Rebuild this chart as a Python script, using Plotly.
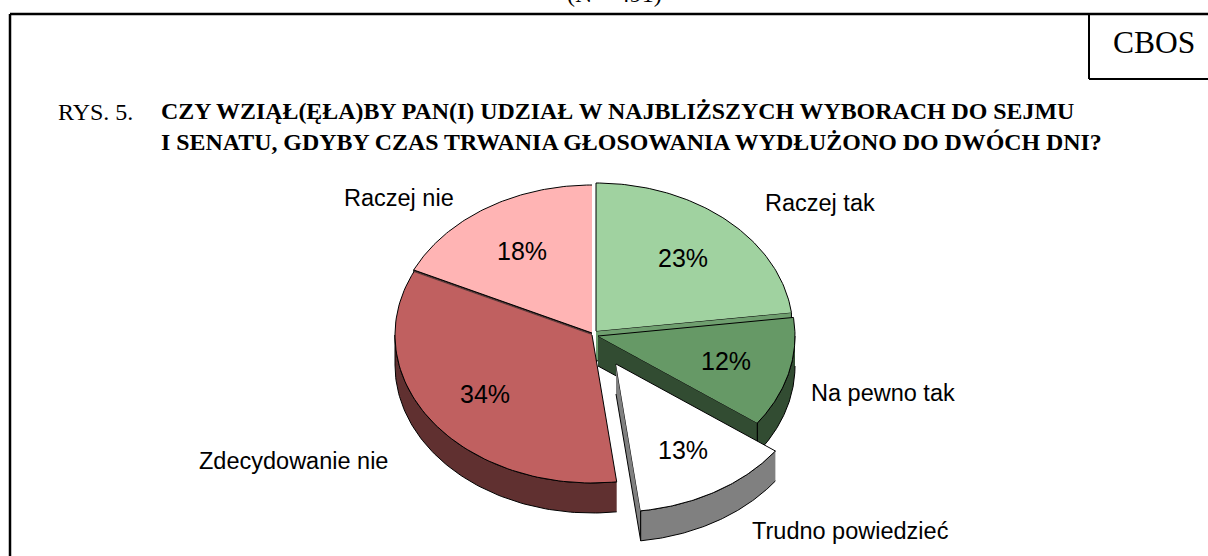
import numpy as np
import plotly.graph_objects as go

categories = ["Raczej tak", "Na pewno tak", "Trudno powiedzieć", "Zdecydowanie nie", "Raczej nie"]
values = [23, 12, 13, 34, 18]
top_colors = ["#A0D2A0", "#669966", "#FFFFFF", "#C06060", "#FFB4B4"]
side_colors = ["#6F9F6F", "#324C32", "#808080", "#603030", "#5A3A3A"]
centers = [(596, 331), (598, 336), (616, 364), (592, 335), (592, 333)]
label_pos = [(820, 203), (883, 393), (850, 531), (293, 461), (399, 198)]
pct_pos = [(683, 258), (726, 361), (683, 450), (485, 394), (522, 251)]
draw_order = [4, 0, 1, 3, 2]

RX, RY, DEPTH = 197, 148, 30
W, H = 1208, 556
ends = np.cumsum(values) / sum(values) * 2 * np.pi
starts = np.concatenate([[0], ends[:-1]])

fig = go.Figure()


def poly(xs, ys, color):
    fig.add_trace(go.Scatter(x=list(xs), y=list(ys), mode="lines", fill="toself", fillcolor=color,
                             line=dict(color="black", width=1), hoverinfo="skip", showlegend=False))


def arc(c, a, b, n=80):
    t = np.linspace(a, b, n)
    return c[0] + RX * np.sin(t), c[1] - RY * np.cos(t)


for i in draw_order:
    a, b, c = starts[i], ends[i], centers[i]
    if b < np.pi:
        x, y = arc(c, b, b, 1)
        poly([c[0], x[0], x[0], c[0]], [c[1], y[0], y[0] + DEPTH, c[1] + DEPTH], side_colors[i])
    elif a > np.pi:
        x, y = arc(c, a, a, 1)
        poly([c[0], x[0], x[0], c[0]], [c[1], y[0], y[0] + DEPTH, c[1] + DEPTH], side_colors[i])
    lo, hi = max(a, np.pi / 2), min(b, 3 * np.pi / 2)
    if lo < hi:
        x, y = arc(c, lo, hi)
        poly(np.r_[x, x[::-1]], np.r_[y, y[::-1] + DEPTH], side_colors[i])
    x, y = arc(c, a, b)
    poly(np.r_[c[0], x], np.r_[c[1], y], top_colors[i])

annotations = []
sans = "Liberation Sans, Arial, sans-serif"
serif = "Liberation Serif, Times New Roman, serif"


def note(text, x, y, size, family, anchor="center"):
    annotations.append(dict(text=text, x=x / W, y=1 - y / H, xref="paper", yref="paper", showarrow=False,
                            xanchor=anchor, yanchor="middle",
                            font=dict(size=size, family=family, color="black")))


for name, pos in zip(categories, label_pos):
    note(name, pos[0], pos[1], 23.5, sans)
for v, pos in zip(values, pct_pos):
    note(f"{v}%", pos[0], pos[1], 25, sans)

note("(N = 491)", 614, -6, 24, serif)
note("CBOS", 1154, 43, 31.5, serif)
note("RYS. 5.", 56, 112, 24, serif, "left")
note("<b>CZY WZIĄŁ(ĘŁA)BY PAN(I) UDZIAŁ W NAJBLIŻSZYCH WYBORACH DO SEJMU</b>", 159, 111, 23.9, serif, "left")
note("<b>I SENATU, GDYBY CZAS TRWANIA GŁOSOWANIA WYDŁUŻONO DO DWÓCH DNI?</b>", 159, 142, 23.9, serif, "left")

shapes = [
    dict(type="line", xref="x", yref="y", x0=10, x1=W, y0=14, y1=14, line=dict(color="black", width=2.5)),
    dict(type="line", xref="x", yref="y", x0=10, x1=10, y0=14, y1=H, line=dict(color="black", width=2.5)),
    dict(type="line", xref="x", yref="y", x0=1089, x1=1089, y0=14, y1=79, line=dict(color="black", width=2)),
    dict(type="line", xref="x", yref="y", x0=1089, x1=W, y0=79, y1=79, line=dict(color="black", width=2)),
]

fig.update_layout(
    width=W, height=H, margin=dict(l=0, r=0, t=0, b=0), paper_bgcolor="white", plot_bgcolor="white",
    xaxis=dict(range=[0, W], visible=False, fixedrange=True),
    yaxis=dict(range=[H, 0], visible=False, fixedrange=True),
    annotations=annotations, shapes=shapes, showlegend=False,
)
fig.write_html("out.html", config=dict(displayModeBar=False),
               post_script="document.body.style.margin='0';document.body.style.overflow='hidden';")
